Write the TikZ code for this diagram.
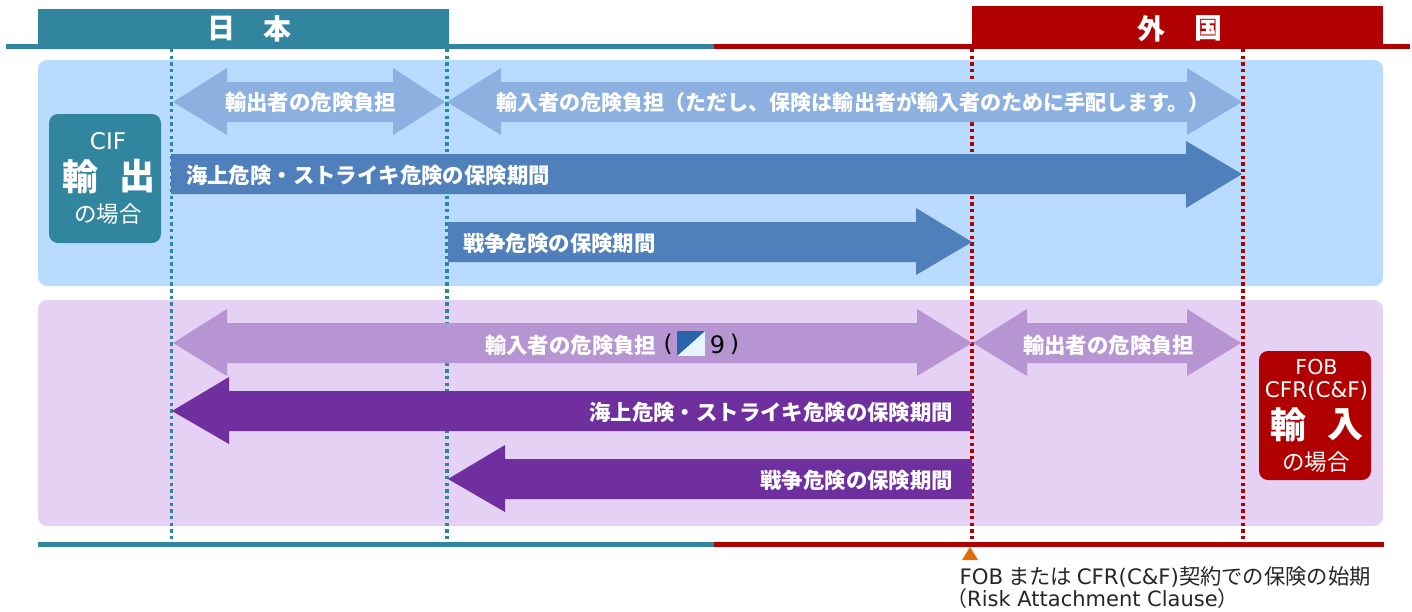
\documentclass[tikz,border=0pt]{standalone}
\usepackage{fontspec}
\setmainfont{Noto Sans CJK JP}
\newfontfamily\lat{DejaVu Sans}
\definecolor{teal1}{HTML}{32859F}
\definecolor{red1}{HTML}{B00000}
\definecolor{panelblue}{HTML}{B9DBFF}
\definecolor{panelpurple}{HTML}{E4D1F3}
\definecolor{arrowlb}{HTML}{8CB0E0}
\definecolor{arrowdb}{HTML}{4F80BB}
\definecolor{arrowlp}{HTML}{B795D3}
\definecolor{arrowdp}{HTML}{6F2F9F}
\definecolor{orange1}{HTML}{E36C0A}
\definecolor{iconblue}{HTML}{2A65AB}
\definecolor{iconlight}{HTML}{E6F6FE}
\tikzset{
  wlab/.style={inner sep=0pt,outer sep=0pt,text=white,font=\fontsize{21.4}{21.4}\selectfont\bfseries},
  boxtxt/.style={inner sep=0pt,text=white},
  dots/.style={line width=3.4pt,dash pattern=on 3.4pt off 3.27pt}
}
\begin{document}
\begin{tikzpicture}[x=1pt,y=-1pt]
\useasboundingbox (0,0) rectangle (1412,611);
\fill[white] (0,0) rectangle (1412,611);
% panels
\fill[panelblue,rounded corners=9pt] (38,60) rectangle (1383,286);
\fill[panelpurple,rounded corners=9pt] (38,300) rectangle (1383,526);
% header bars
\fill[teal1] (6,44) rectangle (714,49);
\fill[red1] (714,44) rectangle (1410,49);
\fill[teal1] (38,9) rectangle (449,49);
\fill[red1] (972,6) rectangle (1383,49);
\fill[teal1] (38,542) rectangle (714,547);
\fill[red1] (714,542) rectangle (1384,547);
% dotted
\draw[teal1,dots] (171.5,49) -- (171.5,541);
\draw[teal1,dots] (447,49) -- (447,541);
\draw[red1,dots] (972,49) -- (972,541);
\draw[red1,dots] (1243,49) -- (1243,541);
% upper arrows
\fill[arrowlb] (173,102) -- (227,68) -- (227,82) -- (393,82) -- (393,68) -- (445,102) -- (393,135) -- (393,122) -- (227,122) -- (227,135) -- cycle;
\fill[arrowlb] (447,102) -- (501,68) -- (501,82) -- (1187,82) -- (1187,68) -- (1242,102) -- (1187,135) -- (1187,122) -- (501,122) -- (501,135) -- cycle;
\fill[arrowdb] (171,154) -- (1186,154) -- (1186,141) -- (1242,174) -- (1186,208) -- (1186,194) -- (171,194) -- cycle;
\fill[arrowdb] (448,222) -- (916,222) -- (916,208) -- (972,242) -- (916,275) -- (916,262) -- (448,262) -- cycle;
% lower arrows
\fill[arrowlp] (173,343) -- (227,309) -- (227,323) -- (917,323) -- (917,309) -- (972,343) -- (917,376) -- (917,363) -- (227,363) -- (227,376) -- cycle;
\fill[arrowlp] (973,343) -- (1027,309) -- (1027,323) -- (1187,323) -- (1187,309) -- (1241,343) -- (1187,376) -- (1187,363) -- (1027,363) -- (1027,376) -- cycle;
\fill[arrowdp] (172,411) -- (229,377) -- (229,391) -- (972,391) -- (972,431) -- (229,431) -- (229,444) -- cycle;
\fill[arrowdp] (448,479) -- (505,445) -- (505,459) -- (972,459) -- (972,499) -- (505,499) -- (505,512) -- cycle;
% side boxes
\fill[teal1,rounded corners=9pt] (49,114) rectangle (161,243);
\fill[red1,rounded corners=9pt] (1259,351) rectangle (1371,480);
% orange triangle
\fill[orange1] (970,547) -- (978,560) -- (962,560) -- cycle;
% icon
\fill[iconlight] (677,331) rectangle (705,356);
\fill[iconblue] (677,331) -- (705,331) -- (677,356) -- cycle;
% header labels
\node[boxtxt,font=\fontsize{28}{28}\selectfont\bfseries] (nihon1) at (221,28.5) {日};
\node[boxtxt,font=\fontsize{28}{28}\selectfont\bfseries] (nihon2) at (277.5,28.5) {本};
\node[boxtxt,font=\fontsize{28}{28}\selectfont\bfseries] (gaikoku1) at (1151,28.5) {外};
\node[boxtxt,font=\fontsize{28}{28}\selectfont\bfseries] (gaikoku2) at (1208,28.5) {国};
% arrow labels
\node[wlab,anchor=west] (t1) at (225,102) {輸出者の危険負担};
\node[wlab,anchor=west,font=\fontsize{21.06}{21.06}\selectfont\bfseries] (t2) at (496,102) {輸入者の危険負担（ただし、保険は輸出者が輸入者のために手配します。）};
\node[wlab,anchor=west] (t3) at (186,175) {海上危険・ストライキ危険の保険期間};
\node[wlab,anchor=west] (t4) at (463,243.5) {戦争危険の保険期間};
\node[wlab,anchor=west] (t5) at (485,345) {輸入者の危険負担};
\node[inner sep=0pt,font=\fontsize{23}{23}\selectfont\lat] (t5a) at (668,344) {(};
\node[inner sep=0pt,font=\fontsize{24}{24}\selectfont\lat] (t5b) at (717.5,345) {9};
\node[inner sep=0pt,font=\fontsize{23}{23}\selectfont\lat] (t5c) at (734.5,344) {)};
\node[wlab,anchor=west] (t6) at (1023,345) {輸出者の危険負担};
\node[wlab,anchor=east] (t7) at (953,412) {海上危険・ストライキ危険の保険期間};
\node[wlab,anchor=east] (t8) at (953,480) {戦争危険の保険期間};
% teal box
\node[boxtxt,font=\fontsize{23}{23}\selectfont\lat] (cif) at (108,141) {CIF};
\node[boxtxt,font=\fontsize{36}{36}\selectfont\bfseries] (ex1) at (80,176.5) {輸};
\node[boxtxt,font=\fontsize{36}{36}\selectfont\bfseries] (ex2) at (137,176.5) {出};
\node[boxtxt,font=\fontsize{22.5}{22.5}\selectfont] (ex3) at (108,214) {の場合};
% red box
\node[boxtxt,font=\fontsize{20.6}{20.6}\selectfont\lat] (fob) at (1316.5,367) {FOB};
\node[boxtxt,font=\fontsize{21.5}{21.5}\selectfont\lat] (cfr) at (1316.5,391) {CFR(C\&F)};
\node[boxtxt,font=\fontsize{36}{36}\selectfont\bfseries] (im1) at (1288.5,424.5) {輸};
\node[boxtxt,font=\fontsize{36}{36}\selectfont\bfseries] (im2) at (1345,424.5) {入};
\node[boxtxt,font=\fontsize{22.5}{22.5}\selectfont] (im3) at (1316,462.5) {の場合};
% caption
\node[inner sep=0pt,anchor=west,font=\fontsize{21.3}{21.3}\selectfont,text=black!85] (c1) at (959.5,577) {{\lat FOB} または {\lat CFR(C\&F)}契約での保険の始期};
\node[inner sep=0pt,anchor=west,font=\fontsize{21}{21}\selectfont,text=black!85] (c2) at (946,598.5) {（{\lat Risk Attachment Clause}）};
\end{tikzpicture}
\end{document}
